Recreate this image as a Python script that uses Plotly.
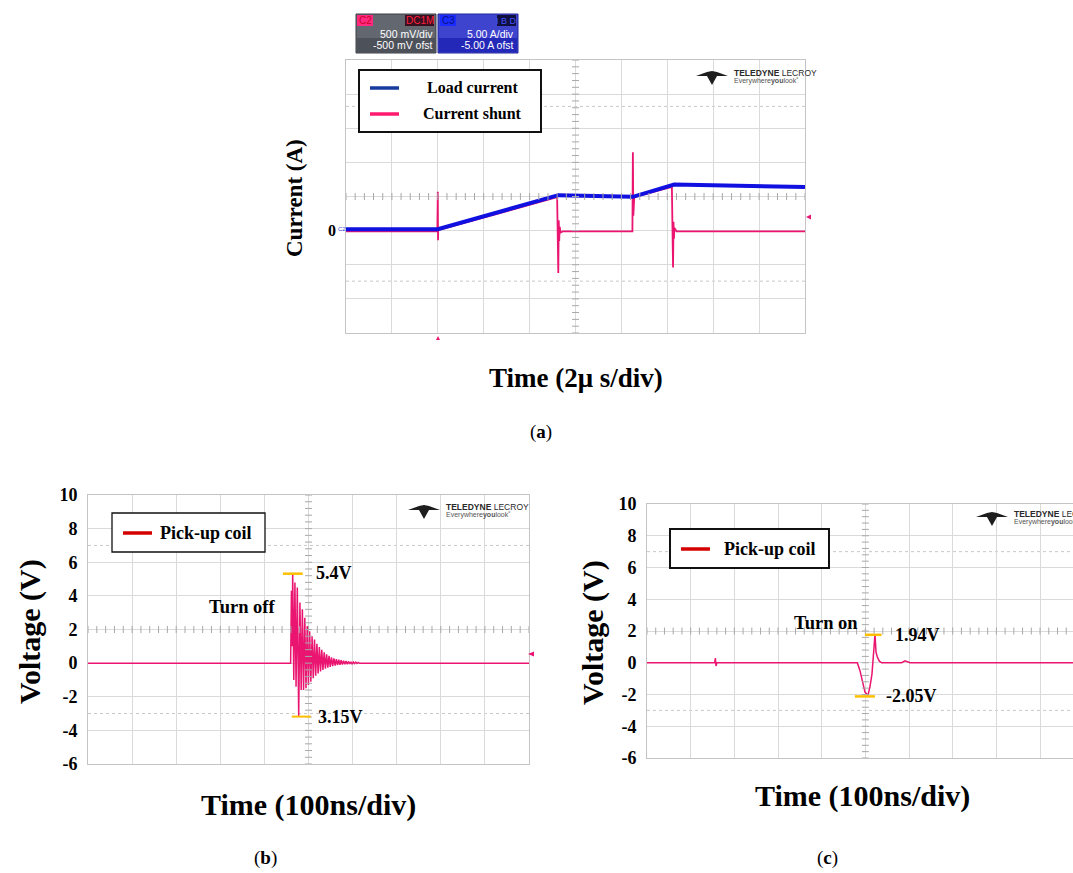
import plotly.graph_objects as go

# ---------------- data ----------------
# (a) time in microseconds, currents in A (5 A/div graticule)
a_time_load = [0.0, 4.0, 9.25, 12.5, 14.3, 20.0]
a_load_current = [0.2, 0.2, 5.2, 4.95, 6.75, 6.4]
a_time_shunt = [0.0, 3.98, 4.0, 4.01, 4.02, 4.05, 9.2, 9.25, 9.27, 9.29, 9.31, 9.35, 9.45,
                12.48, 12.5, 12.52, 12.56, 14.2, 14.25, 14.27, 14.29, 14.31, 14.4, 20.0]
a_current_shunt = [-0.1, -0.1, 5.7, -1.4, 0.5, 0.1, 4.9, -6.2, 1.5, -1.5, 0.6, -0.3, -0.1,
                   -0.1, 11.5, 2.2, 4.9, 6.4, -5.4, 1.3, -1.2, 0.4, -0.1, -0.1]

# (b) turn-off, time in ns, voltage in V
b_time_ns = [0, 459.5, 461.3, 462.6, 464.2, 466.6, 469.2, 471.8, 474.6, 477.8, 480.6, 483.4,
             486.1, 488.8, 491.6, 494.3, 497.1, 499.8, 502.6, 505.3, 508.1, 510.8, 513.6,
             516.3, 519.1, 521.8, 524.6, 527.3, 530.1, 532.8, 535.6, 538.3, 541.1, 543.8,
             546.6, 549.3, 552.1, 554.8, 557.6, 560.3, 563.1, 565.8, 568.6, 571.3, 574.1,
             576.8, 579.6, 582.3, 585.1, 587.8, 590.6, 593.3, 596.1, 598.8, 601.6, 604.3,
             607.1, 609.8, 612.6, 615.3, 618.0, 1000]
b_pickup_v = [0, 0, 4.3, 1.0, 5.3, -1.0, 4.8, -1.4, 4.5, -3.15, 3.6, -1.6,
              3.2, -1.6, 2.7, -1.5, 2.2, -1.3, 1.9, -1.1, 1.6, -0.9, 1.4,
              -0.75, 1.15, -0.62, 0.95, -0.5, 0.8, -0.4, 0.65, -0.33, 0.52, -0.27,
              0.43, -0.22, 0.35, -0.18, 0.29, -0.15, 0.24, -0.12, 0.2, -0.1, 0.17,
              -0.08, 0.14, -0.07, 0.12, -0.06, 0.1, -0.05, 0.08, -0.04, 0.07, -0.03,
              0.06, -0.02, 0.04, -0.01, 0, 0]

# (c) turn-on, time in ns, voltage in V
c_time_ns = [0, 155, 156.5, 158, 160, 481.6, 487.7, 493.8, 499.2, 506.1, 510.6, 515.2,
             518.3, 522.1, 524.4, 527.4, 532.0, 537.4, 583.2, 590.8, 602.3, 975.5]
c_pickup_v = [0, 0, 0.3, -0.2, 0, 0, -0.5, -1.2, -1.85, -2.06, -1.5, -0.7,
              0.35, 1.8, 0.67, 0.36, 0.1, 0, 0, 0.12, 0, 0]

# voltage tick labels for (b) and (c)
v_tick_vals = [-6, -4, -2, 0, 2, 4, 6, 8, 10]
v_tick_text = ["-6", "-4", "-2", "0", "2", "4", "6", "8", "10"]

# annotated peak values
b_peak_label, b_peak_val = "5.4V", 5.32
b_trough_label, b_trough_val = "3.15V", -3.18
c_peak_label, c_peak_val = "1.94V", 1.76
c_trough_label, c_trough_val = "-2.05V", -2.12

# ---------------- helpers ----------------
W, H = 1073, 873
SERIF = "Liberation Serif"
SANS = "Liberation Sans"
PINK = "#ea1570"
BLUE = "#1010e0"
GRID = "#dadada"
FRAME = "#c4c4c4"
ORANGE = "#ffbf00"


def px(x):
    return x / W


def py(y):
    return 1 - y / H


shapes = []
annotations = []


def rect(x0, y0, x1, y1, fill, line=None, lw=0):
    shapes.append(dict(type="rect", xref="paper", yref="paper", layer="above",
                       x0=px(x0), x1=px(x1), y0=py(y1), y1=py(y0),
                       fillcolor=fill, line=dict(width=lw, color=line or fill)))


def pline(x0, y0, x1, y1, color, width, dash="solid"):
    shapes.append(dict(type="line", xref="paper", yref="paper", layer="above",
                       x0=px(x0), x1=px(x1), y0=py(y0), y1=py(y1),
                       line=dict(color=color, width=width, dash=dash)))


def poly(points, fill):
    path = "M " + " L ".join(f"{px(x):.5f},{py(y):.5f}" for x, y in points) + " Z"
    shapes.append(dict(type="path", xref="paper", yref="paper", layer="above",
                       path=path, fillcolor=fill, line=dict(width=0)))


def text(x, y, s, size, color="black", xanchor="center", family=SERIF, bold=False,
         angle=0, xref="paper", yref="paper"):
    annotations.append(dict(
        xref=xref, yref=yref,
        x=px(x) if xref == "paper" else x,
        y=py(y) if yref == "paper" else y,
        text=s, showarrow=False, xanchor=xanchor, yanchor="middle",
        textangle=angle,
        font=dict(family=family, size=size, color=color,
                  weight="bold" if bold else "normal")))


def logo(x, y):
    # Teledyne LeCroy logo (icon + words)
    poly([(x, y + 5), (x + 11, y + 1), (x + 16, y), (x + 21, y + 1), (x + 32, y + 5),
          (x + 21, y + 5), (x + 16, y + 14), (x + 11, y + 5)], "#1e1e1e")
    text(x + 36, y + 2, "<b>TELEDYNE</b> LECROY", 8.5, "#2a2a2a", "left", SANS)
    text(x + 36, y + 9.5, "Everywhere<b>you</b>look\u02da", 7, "#555555", "left", SANS)


def legend_box(x0, y0, x1, y1, lw, entries, size):
    rect(x0, y0, x1, y1, "white", "#111111", lw)
    for (ly, color, label, tx) in entries:
        pline(x0 + 11, ly, x0 + 40, ly, color, 3.5)
        text(tx, ly, label, size, "black", "center", SERIF, True)


fig = go.Figure()

# ---------------- traces ----------------
fig.add_trace(go.Scatter(x=a_time_shunt, y=a_current_shunt, mode="lines",
                         line=dict(color=PINK, width=1.8), name="Current shunt",
                         xaxis="x", yaxis="y", showlegend=False))
fig.add_trace(go.Scatter(x=a_time_load, y=a_load_current, mode="lines",
                         line=dict(color=BLUE, width=4), name="Load current",
                         xaxis="x", yaxis="y", showlegend=False))
fig.add_trace(go.Scatter(x=b_time_ns, y=b_pickup_v, mode="lines",
                         line=dict(color=PINK, width=1.5), name="Pick-up coil",
                         xaxis="x2", yaxis="y2", showlegend=False))
fig.add_trace(go.Scatter(x=c_time_ns, y=c_pickup_v, mode="lines",
                         line=dict(color=PINK, width=1.5), name="Pick-up coil",
                         xaxis="x3", yaxis="y3", showlegend=False))


# graticule centre-line tick marks
def centre_ticks(xa, ya, xc, yc, xr, yr, xstep, ystep):
    n = int(round((xr[1] - xr[0]) / xstep))
    xs = [xr[0] + i * xstep for i in range(n + 1)]
    m = int(round((yr[1] - yr[0]) / ystep))
    ys = [yr[0] + i * ystep for i in range(m + 1)]
    fig.add_trace(go.Scatter(x=xs, y=[yc] * len(xs), mode="markers", xaxis=xa, yaxis=ya,
                             marker=dict(symbol="line-ns", size=5,
                                         line=dict(color="#a8a8a8", width=1)),
                             hoverinfo="skip", showlegend=False, cliponaxis=True))
    fig.add_trace(go.Scatter(x=[xc] * len(ys), y=ys, mode="markers", xaxis=xa, yaxis=ya,
                             marker=dict(symbol="line-ew", size=5,
                                         line=dict(color="#a8a8a8", width=1)),
                             hoverinfo="skip", showlegend=False, cliponaxis=True))


centre_ticks("x", "y", 10, 5, (0, 20), (-15, 25), 0.4, 1.0)
centre_ticks("x2", "y2", 500, 2, (0, 1000), (-6, 10), 20, 0.4)
centre_ticks("x3", "y3", 500, 2, (0, 975.5), (-6, 10), 20, 0.4)

# dotted cursor lines
for (xa, ya, xr, yv) in [("x", "y", 20, 18.2), ("x", "y", 20, -7.4),
                         ("x2", "y2", 1000, 7), ("x2", "y2", 1000, -3),
                         ("x3", "y3", 975.5, 7), ("x3", "y3", 975.5, -3)]:
    shapes.append(dict(type="line", xref=xa, yref=ya, x0=0, x1=xr, y0=yv, y1=yv,
                       layer="below", line=dict(color="#c8c8c8", width=1, dash="dot")))

# ---------------- axes ----------------
common_x = dict(showgrid=True, gridcolor=GRID, gridwidth=1, showline=True, linecolor=FRAME,
                linewidth=1, mirror=True, zeroline=False, showticklabels=False, ticks="",
                fixedrange=True, automargin=False)
common_y = dict(showgrid=True, gridcolor=GRID, gridwidth=1, showline=True, linecolor=FRAME,
                linewidth=1, mirror=True, zeroline=False, ticks="", fixedrange=True,
                automargin=False)
tickfont = dict(family=SERIF, size=18, color="black", weight="bold")

fig.update_layout(
    width=W, height=H, margin=dict(l=0, r=0, t=0, b=0, pad=0, autoexpand=False),
    paper_bgcolor="white", plot_bgcolor="white", showlegend=False,
    xaxis=dict(domain=[px(346), px(805)], range=[0, 20], dtick=2, anchor="y", **common_x),
    yaxis=dict(domain=[py(333), py(60)], range=[-15, 25], dtick=5, anchor="x",
               showticklabels=False, **common_y),
    xaxis2=dict(domain=[px(88), px(529)], range=[0, 1000], dtick=100, anchor="y2", **common_x),
    yaxis2=dict(domain=[py(764), py(495)], range=[-6, 10], tickmode="array",
                tickvals=v_tick_vals, ticktext=v_tick_text, anchor="x2",
                showticklabels=True, tickfont=tickfont, ticklabelstandoff=6, **common_y),
    xaxis3=dict(domain=[px(647), 1.0], range=[0, 975.5], dtick=100, anchor="y3", **common_x),
    yaxis3=dict(domain=[py(758), py(504)], range=[-6, 10], tickmode="array",
                tickvals=v_tick_vals, ticktext=v_tick_text, anchor="x3",
                showticklabels=True, tickfont=tickfont, ticklabelstandoff=6, **common_y),
)

# ---------------- panel (a) decorations ----------------
# scope channel boxes
rect(356, 14, 436, 53, "#626770", "#3c3f45", 1)
rect(357, 38, 435, 52, "#4d5159")
rect(357, 15, 373, 26, "#ff2a7f")
text(365, 20.5, "C2", 10, "#c8002a", "center", SANS)
rect(405, 15, 434, 26, "#3a1020")
text(419.5, 20.5, "DC1M", 10, "#ff2040", "center", SANS)
text(435, 34, "500 mV/div", 10.5, "white", "right", SANS)
text(435, 45, "-500 mV ofst", 10.5, "white", "right", SANS)

rect(438, 14, 518, 53, "#3f44cf", "#23279a", 1)
rect(439, 38, 517, 52, "#2328b8")
rect(440, 15, 456, 26, "#1a2cff")
text(448, 20.5, "C3", 10, "#0a1080", "center", SANS)
rect(497, 15, 516, 26, "#101040")
text(506.5, 20.5, "I B D", 9, "#4050ff", "center", SANS)
text(516, 34, "5.00 A/div", 10.5, "white", "right", SANS)
text(516, 45, "-5.00 A ofst", 10.5, "white", "right", SANS)

logo(696, 71)
legend_box(359, 70, 541, 132, 2,
           [(88, "#173a9e", "Load current", 472),
            (114, "#ff1a70", "Current shunt", 472)], 16)
text(338, 0, "0", 16, "black", "right", SERIF, True, yref="y")
text(342, 229, "C2", 6, "#3040d0", "center", SANS)
poly([(806, 217), (811, 214.5), (811, 219.5)], PINK)
poly([(438, 336), (436, 340), (440, 340)], PINK)
text(295, 198, "Current (A)", 23, "black", "center", SERIF, True, angle=-90)
text(576, 378, "Time (2\u03bc s/div)", 27, "black", "center", SERIF, True)
text(541, 432, "(<b>a</b>)", 19, "black", "center", SERIF)

# ---------------- panel (b) decorations ----------------
logo(408, 505)
legend_box(112, 513, 265, 552, 1.3, [(533, "#d40000", "Pick-up coil", 206)], 18)
shapes.append(dict(type="line", xref="x2", yref="y2", x0=442, x1=487, y0=b_peak_val,
                   y1=b_peak_val, line=dict(color=ORANGE, width=2.5)))
shapes.append(dict(type="line", xref="x2", yref="y2", x0=462, x1=505, y0=b_trough_val,
                   y1=b_trough_val, line=dict(color=ORANGE, width=2)))
text(512, b_peak_val + 0.05, b_peak_label, 18, "black", "left", SERIF, True, xref="x2", yref="y2")
text(516, b_trough_val, b_trough_label, 18, "black", "left", SERIF, True, xref="x2", yref="y2")
text(349, 3.35, "Turn off", 18.5, "black", "center", SERIF, True, xref="x2", yref="y2")
poly([(528, 654), (534, 651.5), (534, 656.5)], PINK)
text(30, 632, "Voltage (V)", 30, "black", "center", SERIF, True, angle=-90)
text(308, 805, "Time (100ns/div)", 30, "black", "center", SERIF, True)
text(265, 858, "(<b>b</b>)", 19, "black", "center", SERIF)

# ---------------- panel (c) decorations ----------------
logo(976, 512)
legend_box(670, 529, 829, 568, 2, [(549, "#d40000", "Pick-up coil", 770)], 18)
shapes.append(dict(type="line", xref="x3", yref="y3", x0=499, x1=537, y0=c_peak_val,
                   y1=c_peak_val, line=dict(color=ORANGE, width=2.5)))
shapes.append(dict(type="line", xref="x3", yref="y3", x0=476, x1=522, y0=c_trough_val,
                   y1=c_trough_val, line=dict(color=ORANGE, width=2.5)))
text(564, c_peak_val, c_peak_label, 18, "black", "left", SERIF, True, xref="x3", yref="y3")
text(542, c_trough_val, c_trough_label, 18, "black", "left", SERIF, True, xref="x3", yref="y3")
text(410, 2.5, "Turn on", 18.5, "black", "center", SERIF, True, xref="x3", yref="y3")
text(593, 633, "Voltage (V)", 30, "black", "center", SERIF, True, angle=-90)
text(862, 796, "Time (100ns/div)", 30, "black", "center", SERIF, True)
text(827, 858, "(<b>c</b>)", 19, "black", "center", SERIF)

fig.update_layout(shapes=shapes, annotations=annotations)
fig.write_html("out.html", config={"displayModeBar": False},
               post_script="document.body.style.margin='0px';")
